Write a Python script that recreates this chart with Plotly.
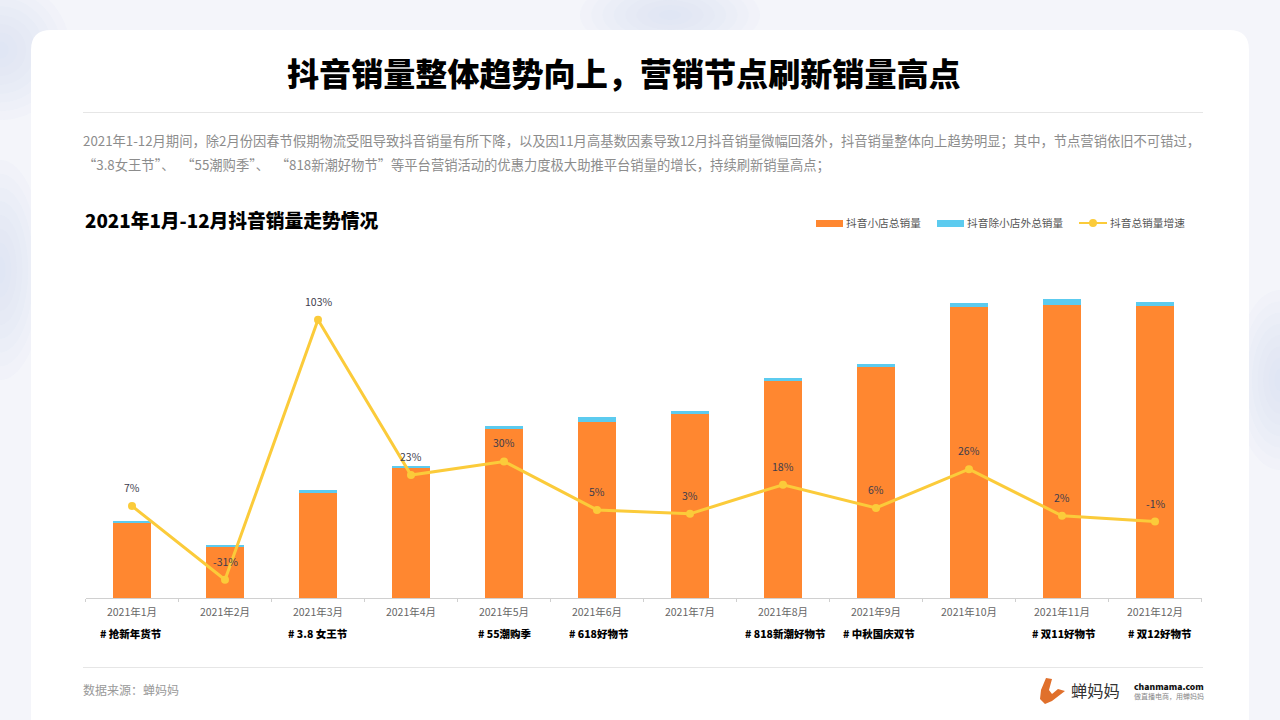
import plotly.graph_objects as go

months = ["2021年1月", "2021年2月", "2021年3月", "2021年4月", "2021年5月", "2021年6月",
          "2021年7月", "2021年8月", "2021年9月", "2021年10月", "2021年11月", "2021年12月"]
# no value axis in the picture, so sales are in relative units
shop_sales = [75, 51, 105, 130, 169, 176, 184, 217, 231, 291, 293, 292]
other_sales = [2, 2, 3, 2, 3, 5, 3, 3, 3, 4, 6, 4]
growth = [7, -31, 103, 23, 30, 5, 3, 18, 6, 26, 2, -1]
growth_labels = ["7%", "-31%", "103%", "23%", "30%", "5%", "3%", "18%", "6%", "26%", "2%", "-1%"]
festivals = ["# 抢新年货节", "", "# 3.8 女王节", "", "# 55潮购季", "# 618好物节",
             "", "# 818新潮好物节", "# 中秋国庆双节", "", "# 双11好物节", "# 双12好物节"]
# the tags are not quite centred under their months in the original
festival_nudge = [-1.5, 0, 0, 0, 0.5, 1.5, 0, 2.5, 2.5, 0, 2, 4.5]

title = "抖音销量整体趋势向上，营销节点刷新销量高点"
intro_1 = ("2021年1-12月期间，除2月份因春节假期物流受阻导致抖音销量有所下降，以及因11月高基数因素导致12月"
           "抖音销量微幅回落外，抖音销量整体向上趋势明显；其中，节点营销依旧不可错过，")
intro_2 = ("“3.8女王节”、\u2002“55潮购季”、\u2002“818新潮好物节”"
           "等平台营销活动的优惠力度极大助推平台销量的增长，持续刷新销量高点；")
subtitle = "2021年1月-12月抖音销量走势情况"
source = "数据来源：蝉妈妈"

FONT = "Noto Sans CJK SC"
ORANGE = "#FF8730"
BLUE = "#5CCBEF"
YELLOW = "#FBCB3A"
W, H = 1280, 720


def px(x):
    return x / W


def py(y):
    return 1 - y / H


def label(x, y, text, size, color="#333333", anchor="left", bold=False):
    fig.add_annotation(xref="paper", yref="paper", x=px(x), y=py(y), text=text, showarrow=False,
                       xanchor=anchor, yanchor="middle", borderpad=0, borderwidth=0,
                       font=dict(family=FONT, size=size, color=color, weight=900 if bold else 400))


def box(x0, y0, x1, y1, color):
    fig.add_shape(type="rect", xref="paper", yref="paper", x0=px(x0), x1=px(x1), y0=py(y0), y1=py(y1),
                  fillcolor=color, line_width=0, layer="below")


def outline(points, color):
    d = "M " + " L ".join(f"{px(a):.5f} {py(b):.5f}" for a, b in points) + " Z"
    fig.add_shape(type="path", xref="paper", yref="paper", path=d, fillcolor=color, line_width=0)


def glow(cx, cy, rx, ry):
    # stacked see-through ellipses give the soft blue patches of the page
    for i in range(1, 9):
        k = i / 8
        fig.add_shape(type="circle", xref="paper", yref="paper", layer="below",
                      x0=px(cx - rx * k), x1=px(cx + rx * k), y0=py(cy - ry * k), y1=py(cy + ry * k),
                      fillcolor="#D8DBF5", opacity=0.09, line_width=0)


fig = go.Figure()
fig.add_trace(go.Bar(x=months, y=shop_sales, name="抖音小店总销量", marker_color=ORANGE, marker_line_width=0))
fig.add_trace(go.Bar(x=months, y=other_sales, name="抖音除小店外总销量", marker_color=BLUE, marker_line_width=0))
fig.add_trace(go.Scatter(x=months, y=growth, name="抖音总销量增速", yaxis="y2", mode="lines+markers",
                         line=dict(color=YELLOW, width=3), marker=dict(color=YELLOW, size=8)))

for month, g, text in zip(months, growth, growth_labels):
    fig.add_annotation(x=month, y=g, xref="x", yref="y2", yshift=18.5, text=text, showarrow=False,
                       borderpad=0, borderwidth=0,
                       font=dict(family=FONT, size=10.5, color="#3c3c4c"))

glow(0, 270, 45, 110)
glow(0, 50, 70, 70)
glow(1280, 380, 45, 90)
glow(670, 15, 90, 40)

# white card, with rounded top corners
r = 20
card = (f"M {px(31):.5f} {py(720):.5f} L {px(31):.5f} {py(30 + r):.5f} "
        f"Q {px(31):.5f} {py(30):.5f} {px(31 + r):.5f} {py(30):.5f} "
        f"L {px(1249 - r):.5f} {py(30):.5f} Q {px(1249):.5f} {py(30):.5f} {px(1249):.5f} {py(30 + r):.5f} "
        f"L {px(1249):.5f} {py(720):.5f} Z")
fig.add_shape(type="path", xref="paper", yref="paper", path=card, fillcolor="white", line_width=0, layer="below")

box(83, 112, 1203, 113, "#E6E6E6")
box(83, 667, 1203, 668, "#E6E6E6")

label(623.5, 72, title, 32.1, "#000000", "center", True)
label(83, 141, intro_1, 13.3, "#8c8c8c")
label(83, 165, intro_2, 13.3, "#8c8c8c")
label(85, 219.5, subtitle, 18.75, "#000000", bold=True)
label(83, 689, source, 12, "#999999")

# legend, wide swatches as in the original
box(816, 220, 843, 227, ORANGE)
label(846, 222, "抖音小店总销量", 10.7, "#555555")
box(937, 220, 964, 227, BLUE)
label(967, 222, "抖音除小店外总销量", 10.7, "#555555")
box(1079, 222, 1107, 224, YELLOW)
fig.add_shape(type="circle", xref="paper", yref="paper", x0=px(1089), x1=px(1097), y0=py(219), y1=py(227),
              fillcolor=YELLOW, line_width=0)
label(1110, 222, "抖音总销量增速", 10.7, "#555555")

for month, tag, nudge in zip(months, festivals, festival_nudge):
    if tag:
        fig.add_annotation(x=month, xref="x", yref="paper", y=py(633), yanchor="middle", xshift=nudge,
                           text=tag, showarrow=False, borderpad=0, borderwidth=0,
                           font=dict(family=FONT, size=10.5, color="#000000", weight=900))

# logo
outline([(1046, 678), (1052, 679), (1049, 690), (1052, 694), (1058, 689), (1065, 691), (1052, 701),
         (1045, 704), (1040, 699), (1041, 690)], "#E0702C")
label(1071, 690, "蝉妈妈", 16.3, "#333333")
label(1134, 686, "chanmama.com", 8.6, "#111111", bold=True)
label(1134, 696, "做直播电商，用蝉妈妈", 7, "#888888")

fig.update_layout(
    width=W, height=H, barmode="stack", bargap=0.595, showlegend=False,
    margin=dict(l=0, r=0, t=0, b=0),
    paper_bgcolor="#F4F5FA", plot_bgcolor="rgba(0,0,0,0)",
    xaxis=dict(domain=[px(85.5), px(1201.5)], range=[-0.5, 11.5], tickson="boundaries", ticks="outside", ticklen=3,
               ticklabelstandoff=4, tickcolor="#D0D0D0", linecolor="#D0D0D0", showline=True, showgrid=False,
               tickfont=dict(family=FONT, size=10.5, color="#666666")),
    yaxis=dict(domain=[py(598), py(250)], range=[0, 348], visible=False),
    yaxis2=dict(overlaying="y", side="right", range=[-40.4, 139], visible=False),
)

fig.write_html("out.html", config={"displayModeBar": False},
               post_script="document.body.style.margin='0';document.body.style.overflow='hidden';")
